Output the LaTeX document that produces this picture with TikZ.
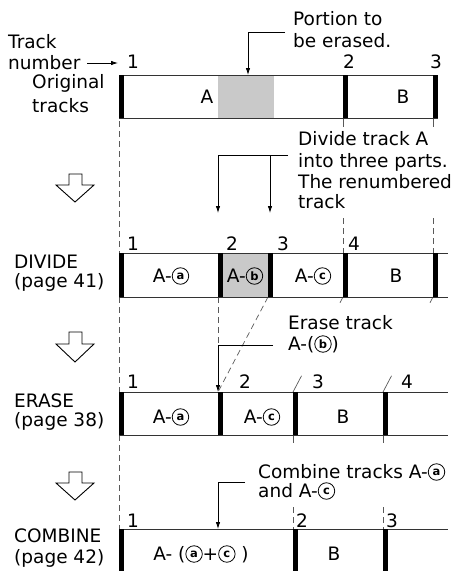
\documentclass[tikz,border=0pt]{standalone}
\usepackage{fontspec}
\setmainfont{DejaVu Sans}
\usetikzlibrary{arrows.meta,calc}
\definecolor{greyfill}{gray}{0.79}
\definecolor{lin}{gray}{0.2}
\definecolor{dsh}{gray}{0.35}
\newcommand{\cir}[1]{\tikz[baseline={([yshift=-6pt]cc.center)}]\node[circle,draw,line width=0.8pt,inner sep=0pt,minimum size=16.5pt,font=\fontsize{11.5}{11.5}\selectfont\bfseries](cc){#1};}
\tikzset{
  txt/.style={font=\fontsize{18.5}{22}\selectfont,inner sep=0pt,anchor=base west},
  ctxt/.style={font=\fontsize{18.5}{22}\selectfont,inner sep=0pt,anchor=base},
  trk/.style={draw=lin,line width=1pt},
  bar/.style={fill=black},
  lead/.style={draw=black,line width=0.8pt,-{Latex[length=7pt,width=4.5pt]}},
  leadline/.style={draw=black,line width=0.8pt},
  dsl/.style={draw=dsh,line width=0.7pt,dash pattern=on 6pt off 4pt},
  tick/.style={draw=dsh,line width=0.7pt},
  hollow/.style={draw=black,line width=0.9pt,fill=white}
}
\begin{document}
\begin{tikzpicture}[x=1pt,y=-1pt]
\useasboundingbox (0,0) rectangle (453,571);
% ---------------- left labels
\node[txt] (trk1) at (8,48) {Track};
\node[txt] (trk2) at (8,69) {number};
\coordinate (trkarr) at (118,63);
\draw[leadline,-{Latex[length=7pt,width=4.5pt]}] (87,63) -- (trkarr);
\node[txt] (org1) at (32,88) {Original};
\node[txt] (org2) at (32,112) {tracks};
\node[txt] (div1) at (14,268) {DIVIDE};
\node[txt] (div2) at (14,287) {(page 41)};
\node[txt] (era1) at (14,407) {ERASE};
\node[txt] (era2) at (14,426) {(page 38)};
\node[txt] (com1) at (14,542) {COMBINE};
\node[txt] (com2) at (14,563) {(page 42)};
% ---------------- hollow arrows
\foreach \t/\s/\p in {174/185/202, 332/344/362, 472/483/500}{
  \draw[hollow] (69,\t) -- (82,\t) -- (82,\s) -- (94,\s) -- (75,\p) -- (56,\s) -- (69,\s) -- cycle;
}
% ---------------- dashed guide lines
\draw[dsl] (119,121) -- (119,253);
\draw[dsl] (119,297) -- (119,392);
\draw[dsl] (119,435) -- (119,529);
\draw[tick] (343,118) -- (343,127);
\draw[tick] (433,118) -- (433,127);
\draw[dsl] (343,218) -- (343,253);
\draw[dsl] (433,218) -- (433,253);
\draw[dsl] (218,297) -- (218,345);
\draw[dsl] (268,297) -- (218,392);
\draw[tick] (343,297) -- ($(343,297)!0.06!(293,392)$);
\draw[tick] (293,392) -- ($(293,392)!0.17!(343,297)$);
\draw[tick] (433,297) -- ($(433,297)!0.06!(383,392)$);
\draw[tick] (383,392) -- ($(383,392)!0.17!(433,297)$);
\draw[tick] (293,435) -- (293,443);
\draw[tick] (383,435) -- (383,443);
\draw[dsl] (293,507) -- (293,529);
\draw[dsl] (383,507) -- (383,529);
% ---------------- row 0 : original
\fill[greyfill] (218,75) rectangle (274,118);
\draw[trk] (119,75) -- (438,75) (119,118) -- (438,118);
\foreach \x in {119,343,433} \fill[bar] (\x,75) rectangle (\x+5,118);
\node[ctxt] (n01) at (133,68) {1};
\node[ctxt] (n02) at (349,68) {2};
\node[ctxt] (n03) at (436,68) {3};
\node[ctxt] (tA) at (207,103) {A};
\node[ctxt] (tB) at (403,103) {B};
% ---------------- row 1 : divide
\fill[greyfill] (223,253) rectangle (268,297);
\draw[trk] (119,253) -- (448,253) (119,297) -- (448,297);
\foreach \x in {119,218,268,343,433} \fill[bar] (\x,253) rectangle (\x+5,297);
\node[ctxt] (n11) at (133,250) {1};
\node[ctxt] (n12) at (232,250) {2};
\node[ctxt] (n13) at (283,250) {3};
\node[ctxt] (n14) at (354,250) {4};
\node[ctxt] (d1) at (171,282) {A-\cir{a}};
\node[ctxt] (d2) at (245,282) {A-\cir{b}};
\node[ctxt] (d3) at (313,282) {A-\cir{c}};
\node[ctxt] (d4) at (396,282) {B};
% ---------------- row 2 : erase
\draw[trk] (119,392) -- (448,392) (119,435) -- (448,435);
\foreach \x in {119,218,293,383} \fill[bar] (\x,392) rectangle (\x+5,435);
\node[ctxt] (n21) at (133,388) {1};
\node[ctxt] (n22) at (245,388) {2};
\node[ctxt] (n23) at (318,388) {3};
\node[ctxt] (n24) at (407,388) {4};
\node[ctxt] (e1) at (171,423) {A-\cir{a}};
\node[ctxt] (e2) at (262,423) {A-\cir{c}};
\node[ctxt] (e3) at (343,423) {B};
% ---------------- row 3 : combine
\draw[trk] (119,529) -- (448,529);
\foreach \x in {119,293,383} \fill[bar] (\x,529) rectangle (\x+5,571);
\node[ctxt] (n31) at (133,527) {1};
\node[ctxt] (n32) at (302,527) {2};
\node[ctxt] (n33) at (392,527) {3};
\node[ctxt] (c1) at (201,560) {A- (\cir{a}+\cir{c} )};
\node[ctxt] (c2) at (334,560) {B};
% ---------------- notes with leaders
\node[txt] (por1) at (293,25) {Portion to};
\node[txt] (por2) at (293,47) {be erased.};
\coordinate (pfrom) at (285,32);
\coordinate (pto) at (248,75);
\draw[lead] (pfrom) -| (pto);

\node[txt] (dv1) at (298,145) {Divide track A};
\node[txt] (dv2) at (298,167) {into three parts.};
\node[txt] (dv3) at (298,188) {The renumbered};
\node[txt] (dv4) at (298,208) {track};
\coordinate (dfrom) at (288,155);
\coordinate (dmid) at (270,155);
\coordinate (dto1) at (218,213);
\coordinate (dto2) at (270,213);
\draw[lead] (dfrom) -| (dto1);
\draw[lead] (dmid) -- (dto2);

\node[txt] (er1) at (288,329) {Erase track};
\node[txt] (er2) at (288,350) {A-(\cir{b})};
\coordinate (efrom) at (273,345);
\coordinate (eto) at (218,392);
\draw[lead] (efrom) -| (eto);

\node[txt] (cb1) at (258,478) {Combine tracks A-\cir{a}};
\node[txt] (cb2) at (258,497) {and A-\cir{c}};
\coordinate (cfrom) at (245,482);
\coordinate (cto) at (218,529);
\draw[lead] (cfrom) -| (cto);
\end{tikzpicture}
\end{document}
